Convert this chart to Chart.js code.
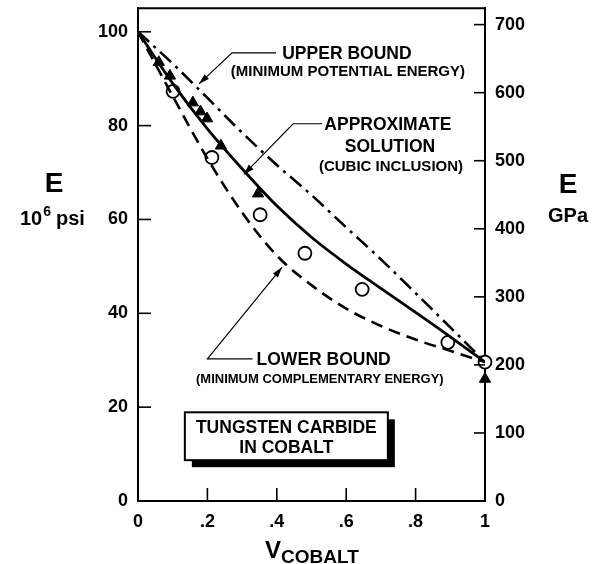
<!DOCTYPE html>
<html>
<head>
<meta charset="utf-8">
<script src="https://cdn.jsdelivr.net/npm/chart.js@4.4.1/dist/chart.umd.min.js"></script>
<style>
  html, body { margin: 0; padding: 0; background: #fff; }
  #wrap { width: 596px; height: 564px; position: relative; }
</style>
</head>
<body>
<div id="wrap"><canvas id="c" width="596" height="564"></canvas></div>
<script>
// ---- Data ----
const vGrid      = [0, 0.1, 0.2, 0.3, 0.4, 0.5, 0.6, 0.7, 0.8, 0.9, 1.0];
const eUpper     = [100, 93.2, 85.9, 78.5, 71.6, 65.2, 58.3, 51.5, 44.3, 37.0, 29.6];
const eApprox    = [100, 89.0, 79.3, 70.8, 62.9, 56.2, 50.5, 45.3, 40.2, 35.0, 29.6];
const eLower     = [100, 86.3, 73.0, 61.5, 52.3, 46.0, 41.0, 37.3, 34.4, 32.0, 29.6];
const vCircles   = [0.101, 0.213, 0.352, 0.481, 0.646, 0.893, 1.0];
const eCircles   = [87.3, 73.2, 61.0, 52.8, 45.1, 33.8, 29.6];
const vTriangles = [0.06, 0.092, 0.158, 0.18, 0.199, 0.239, 0.346, 1.0];
const eTriangles = [93.5, 90.6, 84.9, 83.0, 81.5, 75.7, 65.5, 26.0];
const xTicks     = [0, 0.2, 0.4, 0.6, 0.8, 1.0];
const xTickLabels= ['0', '.2', '.4', '.6', '.8', '1'];
const psiTicks   = [0, 20, 40, 60, 80, 100];
const gpaTicks   = [0, 100, 200, 300, 400, 500, 600, 700];
const PSI_TO_GPA = 6.895;
const PSI_MAX    = 105;

const FONT = '"Liberation Sans", Arial, Helvetica, sans-serif';

function pts(xs, ys) { return xs.map((x, i) => ({ x: x, y: ys[i] })); }

// annotations in data coordinates (V, 10^6 psi)
const labels = [
  { t: 'UPPER BOUND', x: 0.602, y: 95.3, size: 17.5 },
  { t: '(MINIMUM POTENTIAL ENERGY)', x: 0.605, y: 91.4, size: 15 },
  { t: 'APPROXIMATE', x: 0.720, y: 80.0, size: 17.5 },
  { t: 'SOLUTION', x: 0.726, y: 75.4, size: 17.5 },
  { t: '(CUBIC INCLUSION)', x: 0.729, y: 71.2, size: 15 },
  { t: 'LOWER BOUND', x: 0.535, y: 30.0, size: 17.5 },
  { t: '(MINIMUM COMPLEMENTARY ENERGY)', x: 0.524, y: 26.0, size: 13 }
];
const arrows = [
  [[0.398, 95.5], [0.271, 95.5], [0.176, 88.9]],
  [[0.530, 80.4], [0.447, 80.4], [0.305, 69.6]],
  [[0.330, 30.3], [0.200, 30.3], [0.415, 49.8]]
];
const boxLines = ['TUNGSTEN CARBIDE', 'IN COBALT'];
const boxRect = { x0: 0.135, x1: 0.720, y0: 18.9, y1: 8.7 };

const decor = {
  id: 'decor',
  afterDraw(chart) {
    const ctx = chart.ctx, a = chart.chartArea;
    const xs = chart.scales.x, ys = chart.scales.y, y2 = chart.scales.y2;
    const X = v => xs.getPixelForValue(v), Y = v => ys.getPixelForValue(v);
    ctx.save();
    ctx.strokeStyle = '#000'; ctx.fillStyle = '#000';
    // top frame line
    ctx.lineWidth = 2;
    ctx.beginPath(); ctx.moveTo(a.left - 1, a.top); ctx.lineTo(a.right + 1, a.top); ctx.stroke();
    // inward ticks
    ctx.lineWidth = 1.6;
    xs.ticks.forEach(t => { const p = X(t.value); if (t.value > 0 && t.value < 1) { ctx.beginPath(); ctx.moveTo(p, a.bottom); ctx.lineTo(p, a.bottom - 13); ctx.stroke(); } });
    ys.ticks.forEach(t => { const p = Y(t.value); ctx.beginPath(); ctx.moveTo(a.left, p); ctx.lineTo(a.left + 13, p); ctx.stroke(); });
    y2.ticks.forEach(t => { const p = y2.getPixelForValue(t.value); ctx.beginPath(); ctx.moveTo(a.right, p); ctx.lineTo(a.right - 11, p); ctx.stroke(); });

    // axis titles
    ctx.textAlign = 'center'; ctx.textBaseline = 'alphabetic';
    ctx.font = 'bold 28px ' + FONT;
    ctx.fillText('E', 54, 192);
    ctx.fillText('E', 568, 193);
    ctx.font = 'bold 20px ' + FONT;
    ctx.fillText('GPa', 568, 222);
    // 10^6 psi
    ctx.textAlign = 'left';
    ctx.font = 'bold 20px ' + FONT;
    let x0 = 20; ctx.fillText('10', x0, 225); x0 += ctx.measureText('10').width;
    ctx.font = 'bold 14px ' + FONT; ctx.fillText('6', x0 + 1, 216); x0 += ctx.measureText('6').width + 6;
    ctx.font = 'bold 20px ' + FONT; ctx.fillText('psi', x0, 225);
    // V_COBALT
    ctx.font = 'bold 24px ' + FONT;
    let vx = 265; ctx.fillText('V', vx, 558); vx += ctx.measureText('V').width;
    ctx.font = 'bold 19px ' + FONT; ctx.fillText('COBALT', vx, 563);

    // annotations
    ctx.textAlign = 'center'; ctx.textBaseline = 'middle';
    labels.forEach(l => { ctx.font = 'bold ' + l.size + 'px ' + FONT; ctx.fillText(l.t, X(l.x), Y(l.y)); });
    ctx.lineWidth = 1.2;
    arrows.forEach(path => {
      ctx.beginPath();
      path.forEach((p, i) => { const px = X(p[0]), py = Y(p[1]); if (i === 0) ctx.moveTo(px, py); else ctx.lineTo(px, py); });
      ctx.stroke();
      const n = path.length, p1 = path[n - 2], p2 = path[n - 1];
      const ax = X(p2[0]), ay = Y(p2[1]);
      const ang = Math.atan2(ay - Y(p1[1]), ax - X(p1[0]));
      ctx.beginPath();
      ctx.moveTo(ax, ay);
      ctx.lineTo(ax - 11 * Math.cos(ang - 0.3), ay - 11 * Math.sin(ang - 0.3));
      ctx.lineTo(ax - 11 * Math.cos(ang + 0.3), ay - 11 * Math.sin(ang + 0.3));
      ctx.closePath(); ctx.fill();
    });

    // boxed label with shadow
    const bx0 = X(boxRect.x0), bx1 = X(boxRect.x1), by0 = Y(boxRect.y0), by1 = Y(boxRect.y1);
    ctx.fillRect(bx0 + 7, by0 + 7, bx1 - bx0, by1 - by0);
    ctx.fillStyle = '#fff'; ctx.fillRect(bx0, by0, bx1 - bx0, by1 - by0);
    ctx.lineWidth = 2; ctx.strokeRect(bx0, by0, bx1 - bx0, by1 - by0);
    ctx.fillStyle = '#000';
    ctx.font = 'bold 17.5px ' + FONT;
    const cx = (bx0 + bx1) / 2;
    ctx.fillText(boxLines[0], cx, by0 + 16);
    ctx.fillText(boxLines[1], cx, by0 + 36);
    ctx.restore();
  }
};

const tickFont = { family: FONT, size: 18, weight: 'bold' };
function noPad(s) { s.paddingTop = 0; s.paddingBottom = 0; s.paddingLeft = 0; s.paddingRight = 0; }

new Chart(document.getElementById('c'), {
  type: 'scatter',
  data: {
    datasets: [
      { data: pts(vGrid, eUpper), showLine: true, borderColor: '#000', borderWidth: 2.6, borderDash: [15, 6, 3, 6], pointRadius: 0, cubicInterpolationMode: 'monotone' },
      { data: pts(vGrid, eApprox), showLine: true, borderColor: '#000', borderWidth: 2.8, pointRadius: 0, cubicInterpolationMode: 'monotone' },
      { data: pts(vGrid, eLower), showLine: true, borderColor: '#000', borderWidth: 2.6, borderDash: [12, 7], pointRadius: 0, cubicInterpolationMode: 'monotone' },
      { data: pts(vCircles, eCircles), showLine: false, pointStyle: 'circle', pointRadius: 6.5, pointBackgroundColor: '#fff', pointBorderColor: '#000', pointBorderWidth: 1.8, clip: false },
      { data: pts(vTriangles, eTriangles), showLine: false, pointStyle: 'triangle', pointRadius: 6.5, pointBackgroundColor: '#000', pointBorderColor: '#000', pointBorderWidth: 1, clip: false }
    ]
  },
  options: {
    responsive: false,
    animation: false,
    events: [],
    layout: { padding: { top: 8, left: 0, right: 0, bottom: 0 } },
    plugins: { legend: { display: false }, tooltip: { enabled: false } },
    scales: {
      x: {
        type: 'linear', position: 'bottom', min: 0, max: 1,
        afterBuildTicks: s => { s.ticks = xTicks.map(v => ({ value: v })); },
        afterFit: s => { s.height = 63; noPad(s); },
        grid: { display: false, drawTicks: false },
        border: { display: true, color: '#000', width: 2 },
        ticks: { color: '#000', font: tickFont, padding: 10, maxRotation: 0,
                 callback: (v) => { const i = xTicks.findIndex(t => Math.abs(t - v) < 1e-9); return i >= 0 ? xTickLabels[i] : ''; } }
      },
      y: {
        type: 'linear', position: 'left', min: 0, max: PSI_MAX,
        afterBuildTicks: s => { s.ticks = psiTicks.map(v => ({ value: v })); },
        afterFit: s => { s.width = 138; noPad(s); },
        grid: { display: false, drawTicks: false },
        border: { display: true, color: '#000', width: 2 },
        ticks: { color: '#000', font: tickFont, padding: 10 }
      },
      y2: {
        type: 'linear', position: 'right', min: 0, max: PSI_MAX * PSI_TO_GPA,
        afterBuildTicks: s => { s.ticks = gpaTicks.map(v => ({ value: v })); },
        afterFit: s => { s.width = 111; noPad(s); },
        grid: { display: false, drawTicks: false },
        border: { display: true, color: '#000', width: 2 },
        ticks: { color: '#000', font: tickFont, padding: 10 }
      }
    }
  },
  plugins: [decor]
});
</script>
</body>
</html>
